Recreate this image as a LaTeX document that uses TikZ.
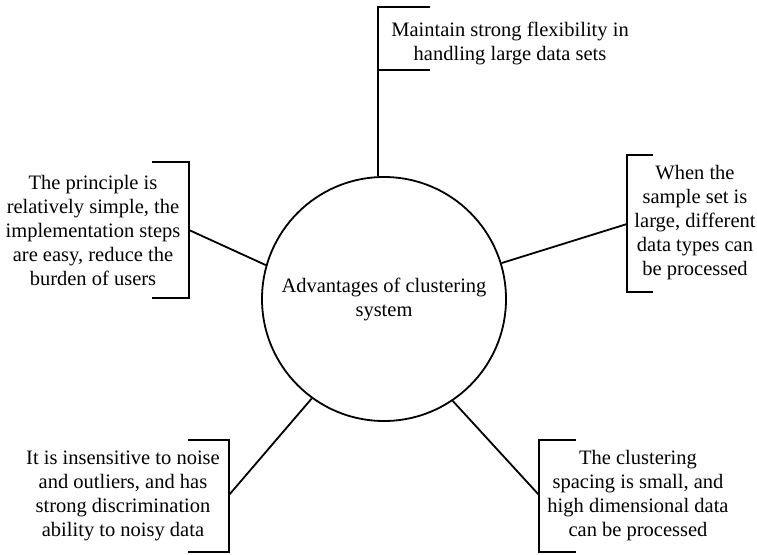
\documentclass[tikz,border=0pt]{standalone}
\usepackage{fontspec}
\setmainfont{Liberation Serif}
\usetikzlibrary{positioning}

\begin{document}
\begin{tikzpicture}[x=1pt, y=-1pt, line width=1.8pt,
    every node/.style={align=center, font=\fontsize{20.5}{24}\selectfont}]
  \useasboundingbox (0,0) rectangle (757,554);

  \node[draw, circle, minimum size=244pt, inner sep=0pt] (hub) at (384,299) {Advantages of clustering\\system};

  % text of each advantage
  \node (flex) at (510,43) {Maintain strong flexibility in\\handling large data sets};
  \node (simple) at (93,230) {The principle is\\relatively simple, the\\implementation steps\\are easy, reduce the\\burden of users};
  \node (types) at (695,223) {When the\\sample set is\\large, different\\data types can\\be processed};
  \node (noise) at (123,496) {It is insensitive to noise\\and outliers, and has\\strong discrimination\\ability to noisy data};
  \node (spacing) at (638,496) {The clustering\\spacing is small, and\\high dimensional data\\can be processed};

  % brackets
  \coordinate (flexb) at (378,7);
  \draw (430,7) -- (flexb) -- (378,70) -- (430,70);
  \coordinate (simpleb) at (189,230);
  \draw (152,162) -- (189,162) -- (189,298) -- (152,298);
  \coordinate (typesb) at (627,224);
  \draw (653,155) -- (627,155) -- (627,292) -- (653,292);
  \coordinate (noiseb) at (229,495);
  \draw (188,440) -- (229,440) -- (229,552) -- (188,552);
  \coordinate (spacingb) at (539,495);
  \draw (576,440) -- (539,440) -- (539,552) -- (576,552);

  % connectors
  \draw (flexb) -- (flexb |- hub.north);
  \draw (simpleb) -- (hub.164);
  \draw (typesb) -- (hub.17);
  \draw (noiseb) -- (hub.234);
  \draw (spacingb) -- (hub.304);
\end{tikzpicture}
\end{document}
